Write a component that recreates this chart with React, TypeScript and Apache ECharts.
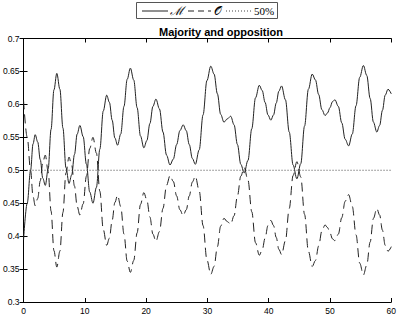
import React, { useEffect, useRef } from "react";
import * as echarts from "echarts";

const xs = [
  0, 0.6, 1.15, 1.55, 1.9, 2.31, 2.73, 3.14, 3.55, 4.02, 4.49, 4.96, 5.43, 5.93, 6.43, 6.92, 7.42,
  7.86, 8.31, 8.75, 9.19, 9.73, 10.26, 10.8, 11.33, 11.89, 12.45, 13.01, 13.57, 14.01, 14.46, 14.9,
  15.34, 15.86, 16.39, 16.91, 17.43, 17.98, 18.53, 19.08, 19.63, 20.12, 20.62, 21.11, 21.6, 22.18,
  22.75, 23.33, 23.9, 24.44, 24.98, 25.51, 26.05, 26.55, 27.04, 27.54, 28.03, 28.66, 29.29, 29.92,
  30.55, 31.09, 31.63, 32.16, 32.7, 33.25, 33.8, 34.35, 34.9, 35.45, 36.0, 36.62, 37.24, 37.85,
  38.47, 38.94, 39.41, 39.88, 40.35, 40.79, 41.23, 41.66, 42.1, 42.73, 43.35, 43.98, 44.6, 45.23,
  45.85, 46.48, 47.1, 47.63, 48.15, 48.68, 49.2, 49.6, 50.0, 50.4, 50.8, 51.36, 51.92, 52.48, 53.04,
  53.64, 54.25, 54.85, 55.45, 56.0, 56.55, 57.09, 57.64, 58.1, 58.56, 59.01, 59.47, 60,
];

const majority = [
  0.394, 0.45, 0.5, 0.54, 0.554, 0.543, 0.516, 0.488, 0.477, 0.502, 0.562, 0.622, 0.647, 0.623,
  0.564, 0.504, 0.48, 0.493, 0.524, 0.555, 0.568, 0.551, 0.509, 0.467, 0.45, 0.474, 0.532, 0.59,
  0.614, 0.603, 0.576, 0.549, 0.538, 0.555, 0.597, 0.638, 0.655, 0.637, 0.595, 0.552, 0.534, 0.545,
  0.571, 0.597, 0.608, 0.593, 0.558, 0.523, 0.508, 0.517, 0.539, 0.56, 0.569, 0.56, 0.539, 0.518,
  0.509, 0.531, 0.584, 0.636, 0.658, 0.646, 0.616, 0.585, 0.573, 0.578, 0.582, 0.569, 0.539, 0.509,
  0.496, 0.515, 0.563, 0.61, 0.629, 0.621, 0.603, 0.584, 0.576, 0.584, 0.602, 0.62, 0.628, 0.607,
  0.558, 0.508, 0.487, 0.51, 0.567, 0.623, 0.646, 0.637, 0.615, 0.592, 0.583, 0.587, 0.595, 0.604,
  0.607, 0.597, 0.572, 0.547, 0.537, 0.555, 0.598, 0.641, 0.659, 0.644, 0.609, 0.573, 0.558, 0.568,
  0.591, 0.614, 0.623, 0.616,
];

const opposition = [
  0.606, 0.55, 0.5, 0.46, 0.446, 0.457, 0.484, 0.512, 0.523, 0.498, 0.438, 0.378, 0.353, 0.377,
  0.436, 0.496, 0.52, 0.507, 0.476, 0.445, 0.432, 0.449, 0.491, 0.533, 0.55, 0.526, 0.468, 0.41,
  0.386, 0.397, 0.424, 0.451, 0.462, 0.445, 0.403, 0.362, 0.345, 0.363, 0.405, 0.448, 0.466, 0.455,
  0.429, 0.403, 0.392, 0.407, 0.442, 0.477, 0.492, 0.483, 0.461, 0.44, 0.431, 0.44, 0.461, 0.482,
  0.491, 0.469, 0.416, 0.364, 0.342, 0.354, 0.384, 0.415, 0.427, 0.422, 0.418, 0.431, 0.461, 0.491,
  0.504, 0.485, 0.437, 0.39, 0.371, 0.379, 0.397, 0.416, 0.424, 0.416, 0.398, 0.38, 0.372, 0.393,
  0.442, 0.492, 0.513, 0.49, 0.433, 0.377, 0.354, 0.363, 0.385, 0.408, 0.417, 0.413, 0.405, 0.396,
  0.393, 0.403, 0.428, 0.453, 0.463, 0.445, 0.402, 0.359, 0.341, 0.356, 0.391, 0.427, 0.442, 0.432,
  0.409, 0.386, 0.377, 0.384,
];

const refX = [0, 60];
const refY = [0.5, 0.5];

const legendLabels = ["\u2133", "\uD835\uDCAA", "50%"];
const titleText = "Majority and opposition";

export default function App() {
  const ref = useRef<HTMLDivElement>(null);
  useEffect(() => {
    if (!ref.current) return;
    const chart = echarts.init(ref.current, undefined, { renderer: "svg" });
    const axisColor = "#000";
    const labelStyle = { color: "#000", fontSize: 8.5, fontFamily: "Liberation Sans, Arial, sans-serif" };
    const tick = { show: true, inside: true, length: 4, lineStyle: { color: axisColor, width: 1 } };
    chart.setOption({
      animation: false,
      backgroundColor: "#fff",
      grid: { left: 20.5, right: 5, top: 38.5, bottom: 13 },
      xAxis: [
        {
          type: "value", min: 0, max: 60, interval: 10, position: "bottom",
          axisLine: { show: true, lineStyle: { color: axisColor, width: 1 } },
          axisTick: tick, splitLine: { show: false },
          axisLabel: { ...labelStyle, margin: 4 },
        },
        {
          type: "value", min: 0, max: 60, interval: 10, position: "top",
          axisLine: { show: true, lineStyle: { color: axisColor, width: 1 } },
          axisTick: tick, splitLine: { show: false }, axisLabel: { show: false },
        },
      ],
      yAxis: [
        {
          type: "value", min: 0.3, max: 0.7, interval: 0.05, position: "left",
          axisLine: { show: true, lineStyle: { color: axisColor, width: 1 } },
          axisTick: tick, splitLine: { show: false },
          axisLabel: { ...labelStyle, margin: 4, formatter: (v: number) => String(+v.toFixed(2)) },
        },
        {
          type: "value", min: 0.3, max: 0.7, interval: 0.05, position: "right",
          axisLine: { show: true, lineStyle: { color: axisColor, width: 1 } },
          axisTick: tick, splitLine: { show: false }, axisLabel: { show: false },
        },
      ],
      series: [
        {
          type: "line", name: "M", data: xs.map((x, i) => [x, majority[i]]),
          smooth: 0.35, smoothMonotone: "x", showSymbol: false,
          lineStyle: { color: "#222", width: 1 },
        },
        {
          type: "line", name: "O", data: xs.map((x, i) => [x, opposition[i]]),
          smooth: 0.35, smoothMonotone: "x", showSymbol: false,
          lineStyle: { color: "#222", width: 1, type: [9, 5] },
        },
        {
          type: "line", name: "50%", data: refX.map((x, i) => [x, refY[i]]),
          showSymbol: false,
          lineStyle: { color: "#444", width: 1, type: [1, 2] },
        },
      ],
      graphic: [
        {
          type: "text", x: 221, y: 26,
          style: { text: titleText, align: "center", verticalAlign: "top", font: "bold 11px Liberation Sans, Arial, sans-serif", fill: "#000" },
        },
        {
          type: "rect", shape: { x: 136.5, y: 2.5, width: 141, height: 16 },
          style: { fill: "#fff", stroke: "#555", lineWidth: 1 },
        },
        { type: "line", shape: { x1: 142, y1: 11, x2: 168, y2: 11 }, style: { stroke: "#222", lineWidth: 1 } },
        {
          type: "text", x: 170, y: 11,
          style: { text: legendLabels[0], verticalAlign: "middle", font: "italic 12px DejaVu Serif, serif", fill: "#000" },
        },
        { type: "line", shape: { x1: 188, y1: 11, x2: 211, y2: 11 }, style: { stroke: "#222", lineWidth: 1, lineDash: [6, 4] } },
        {
          type: "text", x: 214, y: 11,
          style: { text: legendLabels[1], verticalAlign: "middle", font: "12px DejaVu Serif, serif", fill: "#000" },
        },
        { type: "line", shape: { x1: 226, y1: 11, x2: 252, y2: 11 }, style: { stroke: "#444", lineWidth: 1, lineDash: [1, 2] } },
        {
          type: "text", x: 254, y: 11,
          style: { text: legendLabels[2], verticalAlign: "middle", font: "11px Liberation Serif, serif", fill: "#000" },
        },
      ],
    });
    return () => chart.dispose();
  }, []);
  return <div ref={ref} style={{ width: 399, height: 315, position: "absolute", left: 0, top: 0 }} />;
}
